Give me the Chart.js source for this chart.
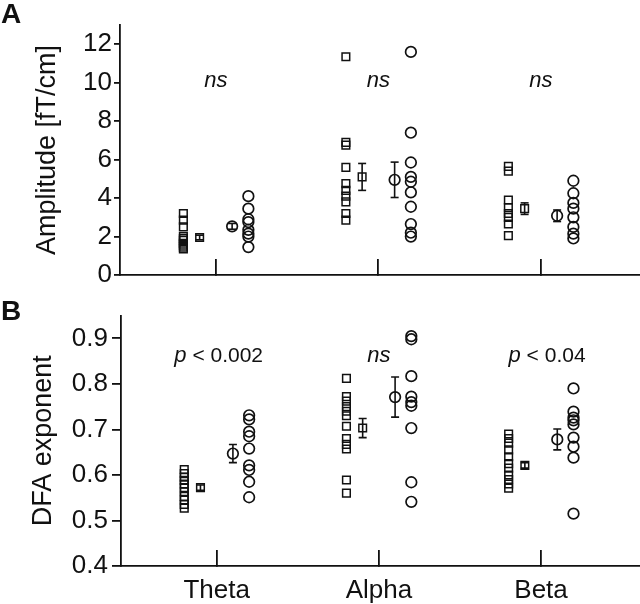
<!DOCTYPE html>
<html>
<head>
<meta charset="utf-8">
<script src="https://cdn.jsdelivr.net/npm/chart.js@4"></script>
<style>
  html, body { margin: 0; padding: 0; background: #fff; }
  #wrap { position: relative; width: 640px; height: 604px; }
  canvas { position: absolute; left: 0; }
</style>
</head>
<body>
<div id="wrap">
  <canvas id="chartA" width="640" height="296" style="top:0"></canvas>
  <canvas id="chartB" width="640" height="308" style="top:296px"></canvas>
</div>
<script>
const bands = ['Theta', 'Alpha', 'Beta'];

// Panel A: amplitude [fT/cm]
const ampSquares = [
  [3.2, 2.85, 2.5, 2.0, 1.9, 1.8, 1.65, 1.55, 1.45, 1.35],
  [11.35, 6.9, 6.75, 5.6, 4.75, 4.4, 4.1, 3.8, 3.2, 2.85],
  [5.65, 5.4, 3.9, 3.5, 3.2, 3.0, 2.65, 2.05]
];
const ampCircles = [
  [4.1, 3.45, 2.9, 2.75, 2.35, 2.15, 2.0, 1.45],
  [11.6, 7.4, 5.85, 5.1, 4.85, 4.3, 3.55, 2.65, 2.2, 2.0],
  [4.9, 4.25, 3.75, 3.45, 3.0, 2.5, 2.15, 1.9]
];
const ampSqMean = [1.95, 5.1, 3.45];
const ampSqErr = [0.12, 0.7, 0.3];
const ampCiMean = [2.53, 4.95, 3.08];
const ampCiErr = [0.15, 0.92, 0.3];
const ampSig = ['ns', 'ns', 'ns'];
const ampTicks = [0, 2, 4, 6, 8, 10, 12];

// Panel B: DFA exponent
const dfaSquares = [
  [0.612, 0.603, 0.595, 0.588, 0.58, 0.572, 0.563, 0.553, 0.545, 0.535, 0.527],
  [0.812, 0.772, 0.762, 0.75, 0.74, 0.73, 0.707, 0.68, 0.667, 0.657, 0.589, 0.56],
  [0.69, 0.68, 0.67, 0.655, 0.64, 0.625, 0.615, 0.6, 0.59, 0.58, 0.571]
];
const dfaCircles = [
  [0.731, 0.722, 0.695, 0.685, 0.658, 0.621, 0.611, 0.585, 0.551],
  [0.905, 0.898, 0.817, 0.772, 0.76, 0.752, 0.703, 0.584, 0.541],
  [0.79, 0.739, 0.726, 0.72, 0.711, 0.682, 0.662, 0.638, 0.515]
];
const dfaSqMean = [0.572, 0.703, 0.621];
const dfaSqErr = [0.006, 0.021, 0.006];
const dfaCiMean = [0.647, 0.771, 0.678];
const dfaCiErr = [0.02, 0.044, 0.023];
const dfaSig = ['p < 0.002', 'ns', 'p < 0.04'];
const dfaTicks = [0.4, 0.5, 0.6, 0.7, 0.8, 0.9];

const ink = '#111';
const FONT = '"Liberation Sans", Arial, Helvetica, sans-serif';
Chart.defaults.font.family = FONT;
Chart.defaults.color = ink;

// horizontal offsets of the four columns around each band
const OFF_SQ = -0.2, OFF_SQ_MEAN = -0.1, OFF_CI_MEAN = 0.1, OFF_CI = 0.2;

const square = { pointStyle: 'rect', pointRadius: 5.4, pointBorderWidth: 1.5,
  pointBorderColor: ink, pointBackgroundColor: 'rgba(0,0,0,0)' };
const circle = { pointStyle: 'circle', pointRadius: 5.3, pointBorderWidth: 1.7,
  pointBorderColor: ink, pointBackgroundColor: 'rgba(0,0,0,0)' };

function columnPoints(groups, dx) {
  const pts = [];
  groups.forEach((vals, i) => vals.forEach(v => pts.push({ x: i + 1 + dx, y: v })));
  return pts;
}

function meanPoints(means, dx) {
  return means.map((m, i) => ({ x: i + 1 + dx, y: m }));
}

function errorBars(means, errs, dx) {
  return means.map((m, i) => ({
    data: [{ x: i + 1 + dx, y: m - errs[i] }, { x: i + 1 + dx, y: m + errs[i] }],
    showLine: true, borderColor: ink, borderWidth: 1.6,
    pointStyle: 'line', pointRadius: 4, pointBorderWidth: 1.6, pointBorderColor: ink
  }));
}

// panel letter + significance labels
const panelText = {
  id: 'panelText',
  afterDraw(chart, args, o) {
    const { ctx } = chart;
    const xs = chart.scales.x, ys = chart.scales.y;
    ctx.save();
    ctx.fillStyle = ink;
    ctx.textBaseline = 'alphabetic';
    ctx.textAlign = 'left';
    ctx.font = 'bold 28px ' + FONT;
    ctx.fillText(o.letter, 1, o.letterY);

    const py = ys.getPixelForValue(o.labelY);
    o.labels.forEach((lab, i) => {
      const px = xs.getPixelForValue(i + 1) + (o.dx ? o.dx[i] : 0);
      let italicPart = lab, plainPart = '';
      if (lab.startsWith('p ')) { italicPart = 'p'; plainPart = lab.slice(1); }
      ctx.font = 'italic 22px ' + FONT;
      const w1 = ctx.measureText(italicPart).width;
      ctx.font = '21px ' + FONT;
      const w2 = plainPart ? ctx.measureText(plainPart).width : 0;
      const x0 = px - (w1 + w2) / 2;
      ctx.font = 'italic 22px ' + FONT;
      ctx.fillText(italicPart, x0, py);
      if (plainPart) {
        ctx.font = '21px ' + FONT;
        ctx.fillText(plainPart, x0 + w1, py);
      }
    });
    ctx.restore();
  }
};

function makePanel(id, cfg) {
  const datasets = [
    Object.assign({ data: columnPoints(cfg.squares, OFF_SQ) }, square),
    Object.assign({ data: meanPoints(cfg.sqMean, OFF_SQ_MEAN) }, square),
    Object.assign({ data: meanPoints(cfg.ciMean, OFF_CI_MEAN) }, circle),
    Object.assign({ data: columnPoints(cfg.circles, OFF_CI) }, circle),
    ...errorBars(cfg.sqMean, cfg.sqErr, OFF_SQ_MEAN),
    ...errorBars(cfg.ciMean, cfg.ciErr, OFF_CI_MEAN)
  ];

  return new Chart(document.getElementById(id), {
    type: 'scatter',
    data: { datasets },
    plugins: [panelText],
    options: {
      responsive: false,
      animation: false,
      events: [],
      layout: { autoPadding: false, padding: { top: cfg.top, left: 0, right: 0, bottom: 0 } },
      plugins: {
        legend: { display: false },
        tooltip: { enabled: false },
        panelText: { letter: cfg.letter, letterY: cfg.letterY, labels: cfg.sig,
          labelY: cfg.sigY, dx: cfg.sigDx }
      },
      scales: {
        x: {
          type: 'linear', min: 0.41, max: 3.61,
          afterBuildTicks: s => { s.ticks = bands.map((b, i) => ({ value: i + 1 })); },
          afterFit: s => { s.height = cfg.xHeight; },
          border: { display: true, color: ink, width: 1.8 },
          grid: { drawOnChartArea: false, drawTicks: true, tickLength: -16,
            color: ink, tickColor: ink, lineWidth: 1.8 },
          ticks: {
            display: cfg.showBands, padding: 25,
            font: { size: 26 }, color: ink,
            callback: v => bands[Math.round(v) - 1]
          }
        },
        y: {
          type: 'linear', min: cfg.yMin, max: cfg.yMax,
          afterBuildTicks: s => { s.ticks = cfg.ticks.map(v => ({ value: v })); },
          afterFit: s => { s.width = cfg.yWidth; },
          border: { display: true, color: ink, width: 1.8 },
          grid: { drawOnChartArea: false, drawTicks: true, tickLength: cfg.tickLen,
            color: ink, tickColor: ink, lineWidth: 1.8 },
          ticks: {
            padding: cfg.tickPad, font: { size: 26 }, color: ink,
            callback: v => cfg.fmt(v)
          },
          title: {
            display: true, text: cfg.title, color: ink,
            font: { size: 27 }, padding: { top: cfg.titlePad, bottom: 0 }
          }
        }
      }
    }
  });
}

makePanel('chartA', {
  letter: 'A', letterY: 23, top: 25, xHeight: 21, yWidth: 120,
  squares: ampSquares, circles: ampCircles,
  sqMean: ampSqMean, sqErr: ampSqErr, ciMean: ampCiMean, ciErr: ampCiErr,
  sig: ampSig, sigY: 9.76, sigDx: [0, 0, 0],
  yMin: 0, yMax: 13, ticks: ampTicks, fmt: v => String(v),
  tickLen: 6, tickPad: 2, title: 'Amplitude [fT/cm]', titlePad: 31,
  showBands: false
});

makePanel('chartB', {
  letter: 'B', letterY: 24, top: 19, xHeight: 38, yWidth: 121,
  squares: dfaSquares, circles: dfaCircles,
  sqMean: dfaSqMean, sqErr: dfaSqErr, ciMean: dfaCiMean, ciErr: dfaCiErr,
  sig: dfaSig, sigY: 0.848, sigDx: [2, 0, 6],
  yMin: 0.4, yMax: 0.95, ticks: dfaTicks, fmt: v => v.toFixed(1),
  tickLen: 9, tickPad: 4, title: 'DFA exponent', titlePad: 27,
  showBands: true
});
</script>
</body>
</html>
